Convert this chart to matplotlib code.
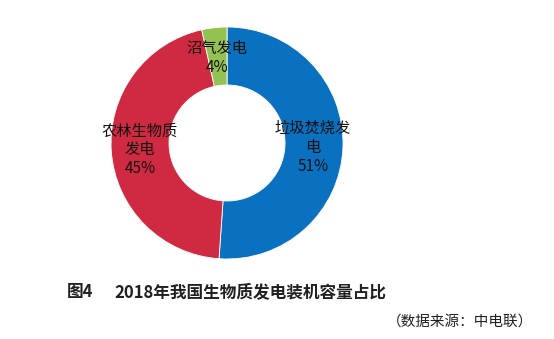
"""
2018年我国生物质发电装机容量占比 - 环形图
"""
import matplotlib
matplotlib.use("Agg")
import matplotlib.pyplot as plt

plt.rcParams['font.family'] = ['Noto Sans CJK SC', 'DejaVu Sans']

labels = ['垃圾焚烧发\n电', '农林生物质\n发电', '沼气发电']
shares = [51.1, 45.4, 3.5]
pct_text = ['51%', '45%', '4%']
colors = ['#0a71c0', '#cf2a41', '#93c152']

fig = plt.figure(figsize=(5.54, 3.39), dpi=100)
ax = fig.add_axes([0.2004, 0.236, 0.4188, 0.6844])

ax.pie(shares, colors=colors, startangle=90, counterclock=False,
       wedgeprops=dict(width=0.5, edgecolor='white', linewidth=0.6))
ax.set_xlim(-1, 1)
ax.set_ylim(-1, 1)
ax.set_aspect('equal')

# подписи секторов
label_pos = [(0.74, -0.04), (-0.75, -0.06), (-0.09, 0.73)]
for (x, y), name, pct in zip(label_pos, labels, pct_text):
    ax.text(x, y, f"{name}\n{pct}", ha='center', va='center',
            fontsize=11, linespacing=1.15, color='#111111')

fig.text(0.121, 0.138, '图4', fontsize=12, fontweight='bold', color='#231f20',
         va='center', ha='left')
fig.text(0.207, 0.138, '2018年我国生物质发电装机容量占比', fontsize=12,
         fontweight='bold', color='#231f20', va='center', ha='left')
fig.text(0.962, 0.05, '（数据来源：中电联）', fontsize=10.5, color='#231f20',
         va='center', ha='right')

fig.savefig('out.png', dpi=100)
